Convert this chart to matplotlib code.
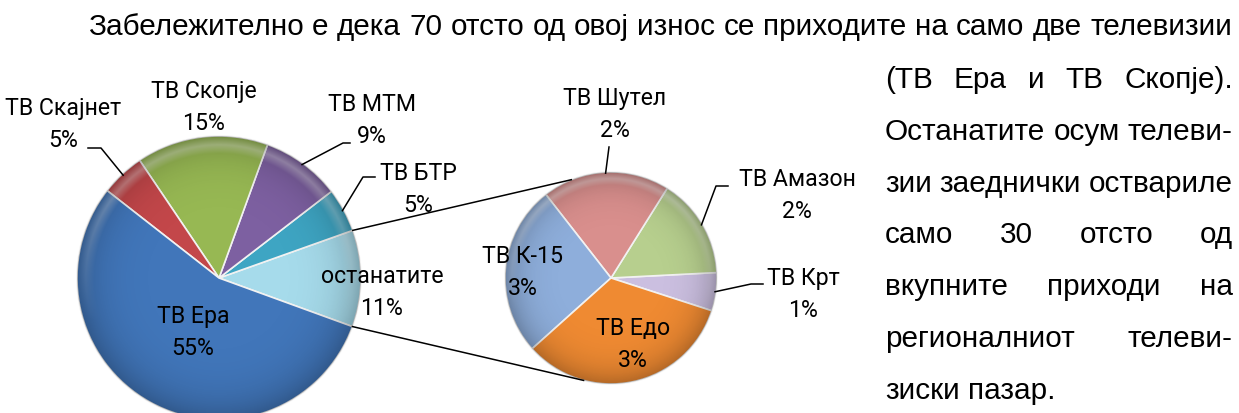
import matplotlib
matplotlib.use('Agg')
import matplotlib.pyplot as plt
import numpy as np
from matplotlib.patches import Circle

W, H = 1239, 413

# main pie (counter-clockwise from the right)
main_labels = ['останатите', 'ТВ БТР', 'ТВ МТМ', 'ТВ Скопје', 'ТВ Скајнет', 'ТВ Ера']
main_values = [11, 5, 9, 15, 5, 55]
main_pct = ['11%', '5%', '9%', '15%', '5%', '55%']
main_colors = ['#a6dbeb', '#3ea5c3', '#7d60a1', '#97b853', '#c3474a', '#4176ba']

# second pie, the split of "останатите"
sub_labels = ['ТВ Крт', 'ТВ Амазон', 'ТВ Шутел', 'ТВ К-15', 'ТВ Едо']
sub_values = [0.64, 1.68, 2.14, 2.87, 3.67]
sub_pct = ['1%', '2%', '2%', '3%', '3%']
sub_colors = ['#cbbfe0', '#b7cf8e', '#d98f8d', '#8eaedb', '#ef8a32']

top_line = 'Забележително е дека 70 отсто од овој износ се приходите на само две телевизии'
side_lines = ['(ТВ Ера и ТВ Скопје).',
              'Останатите осум телеви-',
              'зии заеднички оствариле',
              'само 30 отсто од',
              'вкупните приходи на',
              'регионалниот телеви-',
              'зиски пазар.']

# layout in pixels (y measured from the top, label y = baseline of the name)
main_c, main_r, main_start = (219, 278), 142, -20
sub_c, sub_r, sub_start = (611, 278), 106, -18

main_pos = {'останатите': (382, 283), 'ТВ БТР': (418, 180), 'ТВ МТМ': (372, 111),
            'ТВ Скопје': (204, 98), 'ТВ Скајнет': (63, 115), 'ТВ Ера': (193, 323)}
sub_pos = {'ТВ Крт': (803, 285), 'ТВ Амазон': (797, 186), 'ТВ Шутел': (615, 105),
           'ТВ К-15': (523, 263), 'ТВ Едо': (633, 335)}
leaders = {'ТВ Скајнет': [(88, 148), (101, 148)], 'ТВ МТМ': [(350, 143), (343, 143)],
           'ТВ БТР': [(375, 177), (363, 177)], 'ТВ Шутел': [(609, 147)],
           'ТВ Амазон': [(728, 186), (716, 186)], 'ТВ Крт': [(763, 284), (751, 284)]}

lab_font = ['Roboto', 'DejaVu Sans']
par_font = ['Liberation Sans', 'DejaVu Sans']


def Y(y):
    return H - y


fig = plt.figure(figsize=(W / 100, H / 100), dpi=100)
ax = fig.add_axes([0, 0, 1, 1])
renderer = fig.canvas.get_renderer()


def width(s, fs, fam):
    t = ax.text(0, 0, s, fontsize=fs, family=fam)
    wd = t.get_window_extent(renderer).width
    t.remove()
    return wd


def shade(cx, cy, r):
    n = 400
    g = np.linspace(-1, 1, n)
    X, Yg = np.meshgrid(g, g)
    R = np.sqrt(X ** 2 + Yg ** 2)
    rgba = np.zeros((n, n, 4))
    dark = np.clip(R, 0, 1) ** 6 * 0.25
    light = np.clip(1 - np.abs(R - 0.94) / 0.06, 0, 1) * np.clip(Yg + 0.3, 0, 1) * 0.3
    rgba[..., :3] = (light / (dark + light + 1e-9))[..., None]
    rgba[..., 3] = np.clip(dark + light, 0, 1)
    im = ax.imshow(rgba, extent=(cx - r, cx + r, Y(cy) - r, Y(cy) + r), origin='lower',
                   zorder=3, interpolation='bilinear')
    im.set_clip_path(Circle((cx, Y(cy)), r, transform=ax.transData))


def draw_pie(values, colors, c, r, start):
    wedges, _ = ax.pie(values, colors=colors, startangle=start, counterclock=True,
                       center=(c[0], Y(c[1])), radius=r,
                       wedgeprops=dict(edgecolor='#f2f2f2', linewidth=1.2))
    shade(c[0], c[1], r)
    return wedges


main_w = draw_pie(main_values, main_colors, main_c, main_r, main_start)
sub_w = draw_pie(sub_values, sub_colors, sub_c, sub_r, sub_start)


def rim_point(w, c, r):
    a = np.radians((w.theta1 + w.theta2) / 2)
    return (c[0] + r * np.cos(a), c[1] - r * np.sin(a))


lab_fs = 13 * 105 / width('ТВ Скопје', 13, lab_font)

for wedges, labels, pcts, pos, c, r in [(main_w, main_labels, main_pct, main_pos, main_c, main_r),
                                         (sub_w, sub_labels, sub_pct, sub_pos, sub_c, sub_r)]:
    for w, lab, p in zip(wedges, labels, pcts):
        x, y = pos[lab]
        ax.text(x, Y(y), lab, ha='center', va='baseline', fontsize=lab_fs,
                family=lab_font, color='black', zorder=5)
        ax.text(x, Y(y + 32), p, ha='center', va='baseline', fontsize=lab_fs,
                family=lab_font, color='black', zorder=5)
        if lab in leaders:
            pts = leaders[lab] + [rim_point(w, c, r * 0.99)]
            ax.plot([q[0] for q in pts], [Y(q[1]) for q in pts], color='black', lw=1.1, zorder=5)

# connector lines between the two pies
ost = main_w[0]
for ang_main, ang_sub in [(ost.theta2, 112), (ost.theta1, -105)]:
    a1, a2 = np.radians(ang_main), np.radians(ang_sub)
    p1 = (main_c[0] + main_r * np.cos(a1), main_c[1] - main_r * np.sin(a1))
    p2 = (sub_c[0] + sub_r * np.cos(a2), sub_c[1] - sub_r * np.sin(a2))
    ax.plot([p1[0], p2[0]], [Y(p1[1]), Y(p2[1])], color='black', lw=1.1, zorder=4)

ax.set_xlim(0, W)
ax.set_ylim(0, H)
ax.set_aspect('auto')
ax.axis('off')


# justified paragraph text
def justify(line, x0, x1, y, fs, last=False):
    words = line.split(' ')
    ws = [width(wd, fs, par_font) for wd in words]
    if last or len(words) == 1:
        gap = width('a a', fs, par_font) - 2 * width('a', fs, par_font)
    else:
        gap = (x1 - x0 - sum(ws)) / (len(words) - 1)
    x = x0
    for wd, wdw in zip(words, ws):
        ax.text(x, Y(y), wd, ha='left', va='baseline', fontsize=fs, family=par_font, color='black')
        x += wdw + gap


fs = 16 * 1144 / width(top_line, 16, par_font)
justify(top_line, 88, 1232, 35, fs)
for i, line in enumerate(side_lines):
    justify(line, 885, 1233, 88 + i * 51.8, fs, last=(i == len(side_lines) - 1))

fig.savefig('out.png', dpi=100)
